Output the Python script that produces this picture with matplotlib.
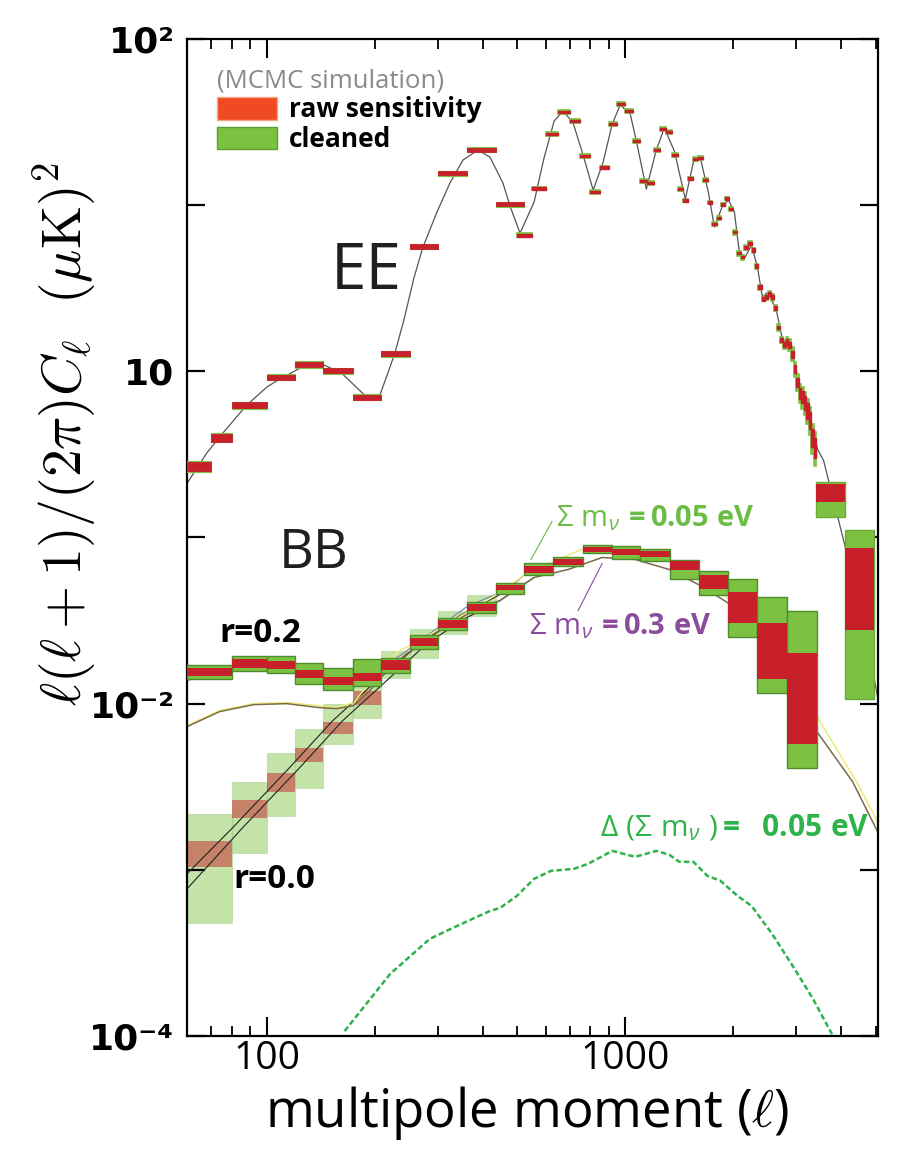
import numpy as np
import matplotlib
matplotlib.use('Agg')
import matplotlib.pyplot as plt
from matplotlib.patches import Patch
from matplotlib.ticker import NullFormatter, NullLocator

plt.rcParams['font.family'] = ['Open Sans', 'DejaVu Sans']
plt.rcParams['mathtext.fontset'] = 'custom'
plt.rcParams['mathtext.rm'] = 'Open Sans'
plt.rcParams['mathtext.it'] = 'Open Sans:italic'
plt.rcParams['mathtext.bf'] = 'Open Sans:bold'

# ---- EE theory curve
ee_th_ell = [60, 68.0, 75.4, 87.9, 100, 107.3, 125.2, 145.2, 162.0, 187.8, 196.5, 206.8, 217.8,
             227.8, 241.4, 257.4, 272.8, 298.5, 324.5, 352.8, 388.5, 419.6, 456.2, 477.3, 509,
             556.9, 593.8, 633.5, 671.2, 715.7, 763.2, 814, 867.9, 919.7, 968.3, 1033, 1080,
             1145, 1221, 1285, 1371, 1471, 1549, 1620, 1705, 1773, 1866, 1940, 2016, 2082, 2136,
             2249, 2337, 2413, 2476, 2541, 2642, 2763, 2890, 2985, 3043, 3183, 3330, 3439, 3573,
             3690, 3811, 4090, 4476, 4897, 5057]
ee_th_val = [0.2115, 0.3206, 0.423, 0.624, 0.801, 0.883, 1.057, 1.087, 0.973, 0.717, 0.678, 0.717,
             0.973, 1.283, 2.029, 3.633, 5.58, 9.07, 13.57, 18.67, 21.45, 19.46, 13.57, 9.86, 6.78,
             10.42, 19.19, 32.06, 36.84, 31.19, 20.01, 12.31, 18.16, 30.76, 40.05, 35.34, 22.98,
             12.49, 21.45, 29.10, 21.15, 10.87, 18.16, 19.19, 11.97, 7.37, 9.86, 10.72, 9.07, 5.14,
             4.66, 5.74, 4.23, 2.79, 2.95, 2.79, 2.30, 1.455, 1.376, 1.087, 0.823, 0.651, 0.447,
             0.339, 0.291, 0.2205, 0.167, 0.0907, 0.0379, 0.0158, 0.01087]

# ---- EE band powers, wide bins at low l
ee_log_lo = [60, 70, 80, 100, 120, 144, 174, 209, 251, 300, 362, 436]
ee_log_hi = [70, 80, 100, 120, 144, 174, 209, 251, 300, 362, 436, 523]
ee_log_val = [0.268, 0.40, 0.624, 0.92, 1.10, 1.01, 0.70, 1.28, 5.65, 15.6, 21.5, 10.1]
ee_log_raw = [0.065, 0.055, 0.04, 0.035, 0.035, 0.035, 0.035, 0.035, 0.03, 0.028, 0.028, 0.028]
ee_log_cln = [0.075, 0.065, 0.05, 0.042, 0.042, 0.042, 0.042, 0.042, 0.036, 0.034, 0.034, 0.034]

# ---- EE band powers, dl = 50 bins
ee_lin_lo = np.arange(500, 3400, 50)
ee_lin_val = [6.59, 12.6, 26.8, 36.3, 32.1, 19.7, 12.0, 16.9, 30.8, 40.6, 36.8, 24.3, 14.0, 13.6,
              21.5, 28.7, 27.5, 20.0, 12.5, 10.7, 14.5, 18.9, 19.2, 14.2, 10.4, 7.69, 8.35, 10.1,
              11.0, 9.46, 6.88, 5.14, 4.86, 5.58, 5.90, 5.36, 4.29, 3.21, 2.72, 2.79, 2.91, 2.79,
              2.40, 1.84, 1.54, 1.45, 1.50, 1.44, 1.27, 1.03, 0.86, 0.74, 0.70, 0.65, 0.58, 0.51,
              0.40, 0.35]
ee_lin_raw = [0.018] * 35 + [0.025] * 10 + [0.035, 0.04, 0.045, 0.05, 0.055] + \
             [0.065, 0.075, 0.085, 0.095, 0.105, 0.115, 0.125, 0.135]
ee_lin_cln = [0.024] * 30 + [0.033] * 10 + [0.045] * 5 + [0.065, 0.075, 0.085, 0.095, 0.105] + \
             [0.12, 0.135, 0.15, 0.16, 0.17, 0.19, 0.21, 0.23]

# ---- EE last two wide bins
ee_wide_lo = [3400, 4095]
ee_wide_hi = [4095, 4935]
ee_wide_raw_lo = [0.163, 0.0279]
ee_wide_raw_hi = [0.211, 0.087]
ee_wide_cln_lo = [0.132, 0.0106]
ee_wide_cln_hi = [0.217, 0.111]

# ---- BB band powers
bb_edges = [60, 80, 100, 120, 144, 174, 209, 251, 300, 362, 436, 523, 630, 763, 920, 1102,
            1336, 1611, 1940, 2324, 2818, 3418]
bb02_raw_lo = [0.01476, 0.01648, 0.01625, 0.01436, 0.01301, 0.01377, 0.01603, 0.02234, 0.02870,
               0.03631, 0.04797, 0.06150, 0.06783, 0.08128, 0.07795, 0.07580, 0.06330, 0.04863,
               0.03076, 0.01416, 0.00574]
bb02_raw_hi = [0.01648, 0.01867, 0.01816, 0.01603, 0.01455, 0.01538, 0.01841, 0.02500, 0.03208,
               0.04000, 0.05140, 0.06690, 0.07372, 0.08710, 0.08471, 0.08240, 0.07170, 0.05904,
               0.04667, 0.03076, 0.02028]
bb02_cln_lo = [0.01416, 0.01581, 0.01538, 0.01319, 0.01214, 0.01283, 0.01538, 0.02144, 0.02791,
               0.03534, 0.04600, 0.05983, 0.06690, 0.08015, 0.07470, 0.07170, 0.05662, 0.04475,
               0.02535, 0.01164, 0.00411]
bb02_cln_hi = [0.01718, 0.01946, 0.01946, 0.01766, 0.01648, 0.01867, 0.01894, 0.02606, 0.03296,
               0.04113, 0.05285, 0.06975, 0.07580, 0.08954, 0.08830, 0.08471, 0.07270, 0.06245,
               0.05662, 0.04354, 0.03631]
# r = 0, first ten bins
bb00_raw_lo = [0.00104, 0.00206, 0.00295, 0.00447, 0.00659, 0.00986, 0.0158, 0.0224, 0.0288, 0.0363]
bb00_raw_hi = [0.00150, 0.00264, 0.00384, 0.00543, 0.00779, 0.01198, 0.0176, 0.0245, 0.0316, 0.0395]
bb00_cln_lo = [0.000479, 0.00126, 0.00212, 0.00312, 0.00574, 0.00824, 0.01436, 0.01894, 0.02642,
               0.03345]
bb00_cln_hi = [0.00217, 0.00339, 0.00507, 0.00707, 0.0100, 0.01339, 0.02085, 0.02831, 0.03631,
               0.04537]

# ---- BB theory curves
bb05_ell = [60, 73.9, 92.0, 113.7, 140.6, 156.8, 175.0, 194.0, 216.3, 235.3, 267.6, 324.5, 393.6,
            447.5, 522.3, 633.5, 753.9, 919.7, 1101.5, 1327, 1620, 1927, 2337, 2853, 3439, 4419, 5057]
bb05_val = [0.00737, 0.00907, 0.0100, 0.01014, 0.00972, 0.00946, 0.01014, 0.01338, 0.01816, 0.02086,
            0.02396, 0.03076, 0.03948, 0.04663, 0.05904, 0.07166, 0.08466, 0.08585, 0.0801, 0.07166,
            0.05662, 0.04351, 0.03076, 0.01919, 0.00823, 0.00339, 0.001946]
bb30_ell = [60, 73.9, 92.0, 113.7, 140.6, 156.8, 175.0, 194.0, 216.3, 246.1, 304.2, 369.0, 447.5,
            556.9, 693.0, 862.6, 1066, 1327, 1620, 1927, 2337, 2853, 3439, 4306, 5057]
bb30_val = [0.00727, 0.00895, 0.00986, 0.0100, 0.00946, 0.00933, 0.00972, 0.01198, 0.01581, 0.0200,
            0.02753, 0.03534, 0.04173, 0.05741, 0.06417, 0.07577, 0.07372, 0.06417, 0.05137, 0.0406,
            0.02791, 0.01581, 0.00669, 0.00339, 0.001694]
lens05_ell = [60, 80.4, 115.9, 152.9, 202.9, 267.6, 346.0, 447.5, 522.3]
lens05_val = [0.000946, 0.00179, 0.00412, 0.0079, 0.01376, 0.02298, 0.0339, 0.04535, 0.05904]
lens30_ell = [60, 85.7, 123.7, 163.0, 216.3, 279.9, 357.4, 447.5, 556.9]
lens30_val = [0.000768, 0.00179, 0.00412, 0.0079, 0.01376, 0.02298, 0.03251, 0.04173, 0.05741]
r02_ell = [60, 79.8, 100, 119.7, 144.3, 173.9, 209.5, 250.8, 300.4, 362.1, 447.5]
r02_val = [0.01376, 0.01602, 0.01717, 0.0167, 0.01537, 0.01455, 0.01625, 0.02145, 0.0287, 0.03839,
           0.04663]

# ---- difference for delta(sum m_nu) = 0.05 eV
dm_ell = [165, 221, 285, 340, 420, 448, 499, 557, 621, 720, 788, 920, 1066, 1221, 1327, 1415, 1549,
          1695, 1843, 2055, 2249, 2557, 2909, 3330, 3786]
dm_val = [1.07e-4, 2.36e-4, 3.84e-4, 4.60e-4, 5.66e-4, 5.90e-4, 6.97e-4, 8.83e-4, 9.86e-4, 1.014e-3,
          1.087e-3, 1.30e-3, 1.197e-3, 1.30e-3, 1.231e-3, 1.117e-3, 1.117e-3, 9.2e-4, 8.59e-4,
          6.97e-4, 6.07e-4, 4.17e-4, 2.71e-4, 1.69e-4, 1.01e-4]

RED = '#c8202a'
GREEN = '#7dc142'
GREEN_EDGE = '#4f8c2e'

fig = plt.figure(figsize=(9.07, 11.52), dpi=100)
ax = fig.add_axes([0.2062, 0.1007, 0.7619, 0.8655])
ax.set_xscale('log')
ax.set_yscale('log')


def boxes(lo_edge, hi_edge, lo, hi, **kw):
    lo_edge = np.asarray(lo_edge, float)
    hi_edge = np.asarray(hi_edge, float)
    lo = np.asarray(lo, float)
    hi = np.asarray(hi, float)
    ax.bar(lo_edge, hi - lo, width=hi_edge - lo_edge, bottom=lo, align='edge', **kw)


# EE boxes
v = np.array(ee_log_val)
boxes(ee_log_lo, ee_log_hi, v * (1 - np.array(ee_log_cln)), v * (1 + np.array(ee_log_cln)),
      color=GREEN, ec=GREEN, lw=0.8, zorder=3)
boxes(ee_log_lo, ee_log_hi, v * (1 - np.array(ee_log_raw)), v * (1 + np.array(ee_log_raw)),
      color=RED, ec=RED, lw=0.6, zorder=4)
v = np.array(ee_lin_val)
boxes(ee_lin_lo, ee_lin_lo + 50, v * (1 - np.array(ee_lin_cln)), v * (1 + np.array(ee_lin_cln)),
      color=GREEN, ec=GREEN, lw=1.2, zorder=3)
boxes(ee_lin_lo, ee_lin_lo + 50, v * (1 - np.array(ee_lin_raw)), v * (1 + np.array(ee_lin_raw)),
      color=RED, ec=RED, lw=1.0, zorder=4)
boxes(ee_wide_lo, ee_wide_hi, ee_wide_cln_lo, ee_wide_cln_hi, color=GREEN, ec='#6aaa38', lw=1,
      zorder=3)
boxes(ee_wide_lo, ee_wide_hi, ee_wide_raw_lo, ee_wide_raw_hi, color=RED, lw=0, zorder=4)

# BB r = 0 boxes (translucent)
n0 = len(bb00_raw_lo)
boxes(bb_edges[:n0], bb_edges[1:n0 + 1], bb00_cln_lo, bb00_cln_hi, color=GREEN, alpha=0.45,
      ec='#9fcf80', lw=0.8, zorder=1)
boxes(bb_edges[:n0], bb_edges[1:n0 + 1], bb00_raw_lo, bb00_raw_hi, color=RED, alpha=0.5, lw=0,
      zorder=1.5)

# BB theory lines
ax.plot(lens05_ell, lens05_val, color='#222222', lw=0.8, zorder=2)
ax.plot(lens30_ell, lens30_val, color='#222222', lw=0.8, zorder=2)
ax.plot(r02_ell, r02_val, color='#6f7fb5', lw=0.8, zorder=2)
ax.plot(bb30_ell, bb30_val, color='#7a6c48', lw=1.1, zorder=2.2)
ax.plot(bb05_ell, bb05_val, color='#eeea78', lw=1.1, zorder=2.1)
ax.plot(ee_th_ell, ee_th_val, color='#555555', lw=0.9, zorder=2)
ax.plot(dm_ell, dm_val, color='#2db34a', lw=1.8, ls=(0, (2.2, 1.2)), zorder=2)

# BB r = 0.2 boxes
boxes(bb_edges[:-1], bb_edges[1:], bb02_cln_lo, bb02_cln_hi, color=GREEN, ec=GREEN_EDGE, lw=1.0,
      zorder=3)
boxes(bb_edges[:-1], bb_edges[1:], bb02_raw_lo, bb02_raw_hi, color=RED, lw=0, zorder=4)

# axes
ax.set_xlim(60, 5070)
ax.set_ylim(1e-4, 1e2)
ax.set_xticks([100, 1000])
ax.set_xticklabels(['100', '1000'])
ax.set_xticks([70, 80, 90, 200, 300, 400, 500, 600, 700, 800, 900, 2000, 3000, 4000, 5000],
              minor=True)
ax.xaxis.set_minor_formatter(NullFormatter())
ax.set_yticks([1e-4, 1e-3, 1e-2, 1e-1, 1e0, 1e1, 1e2])
ax.set_yticklabels(['10⁻⁴', '', '10⁻²', '', '10', '', '10²'])
ax.yaxis.set_minor_locator(NullLocator())
for lab in ax.get_yticklabels():
    lab.set_family('DejaVu Sans')
    lab.set_weight('bold')
ax.tick_params(which='both', direction='in', top=True, right=True, colors='black')
ax.tick_params(axis='x', which='major', length=14, width=1.5, labelsize=28, pad=3)
ax.tick_params(axis='x', which='minor', length=7, width=1.3)
ax.tick_params(axis='y', which='major', length=13, width=1.6, labelsize=26, pad=9)
for s in ax.spines.values():
    s.set_linewidth(1.6)

fig.text(0.581, 0.034, r'multipole moment ($\ell$)', fontsize=38, ha='center', va='center',
         math_fontfamily='cm')
fig.text(0.072, 0.623, r'$\ell(\ell+1)/(2\pi)C_\ell\ \ (\mu{\rm K})^2$', fontsize=40,
         rotation=90, ha='center', va='center', math_fontfamily='cm')

# annotations
ax.text(190, 3.95, 'EE', fontsize=46, ha='center', va='center', color='#231f20')
ax.text(135, 0.080, 'BB', fontsize=39, ha='center', va='center', color='#231f20')
ax.text(96, 0.0264, 'r=0.2', fontsize=24, fontweight='bold', ha='center', va='center')
ax.text(105, 0.00087, 'r=0.0', fontsize=24, fontweight='bold', ha='center', va='center')
ax.text(640, 0.1165, r'$\Sigma\ \mathrm{m}_{\nu}\,\mathbf{=0.05\ eV}$', fontsize=21,
        color='#6cbd45', ha='left', va='baseline')
ax.plot([625, 546], [0.1249, 0.0737], color='#6cbd45', lw=0.8, zorder=5)
ax.text(540, 0.0260, r'$\Sigma\ \mathrm{m}_{\nu}\,\mathbf{=0.3\ eV}$', fontsize=21,
        color='#8b4c9e', ha='left', va='baseline')
ax.plot([739, 862], [0.0363, 0.0697], color='#8b4c9e', lw=0.8, zorder=5)
ax.text(851, 0.0016, r'$\Delta\ (\Sigma\ \mathrm{m}_{\nu}\ )\mathbf{=\ \ 0.05\ eV}$', fontsize=21.5,
        color='#2db34a', ha='left', va='baseline')

handles = [Patch(facecolor='#f04a23', edgecolor='#f7a585', lw=1),
           Patch(facecolor=GREEN, edgecolor='#5f9c35', lw=1)]
leg = ax.legend(handles, ['raw sensitivity', 'cleaned'], loc='upper left',
                bbox_to_anchor=(0.043, 0.970), frameon=False, borderpad=0, borderaxespad=0,
                prop={'weight': 'bold', 'size': 19}, title='(MCMC simulation)',
                title_fontproperties={'size': 18.5}, alignment='left', handlelength=2.3,
                handleheight=0.95, handletextpad=0.45, labelspacing=0.1)
leg.get_title().set_color('#8a8a8a')

fig.savefig('out.png', dpi=100)
